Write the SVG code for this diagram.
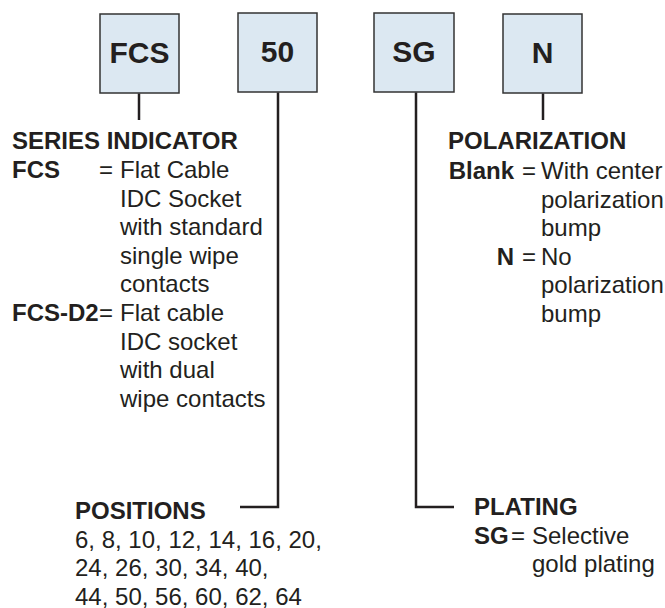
<svg xmlns="http://www.w3.org/2000/svg" width="665" height="608" viewBox="0 0 665 608">
<style>
.box{fill:#dce8f2;stroke:#333;stroke-width:1.5}
.bt{font-family:"Liberation Sans",Arial,sans-serif;font-weight:bold;font-size:30px;fill:#231f20;text-anchor:middle}
.t{font-family:"Liberation Sans",Arial,sans-serif;font-size:24px;fill:#231f20}
.b{font-weight:bold}
.e{text-anchor:end}
.ln{fill:none;stroke:#231f20;stroke-width:2.5}
</style>
<rect width="665" height="608" fill="#fff"/>
<g id="node-fcs"><rect class="box" x="100" y="14" width="79" height="79"/><text class="bt" x="139.5" y="63">FCS</text></g>
<g id="node-50"><rect class="box" x="238" y="13" width="79" height="79"/><text class="bt" x="277.5" y="62">50</text></g>
<g id="node-sg"><rect class="box" x="374" y="13" width="80" height="79"/><text class="bt" x="414" y="62">SG</text></g>
<g id="node-n"><rect class="box" x="503" y="14" width="79" height="79"/><text class="bt" x="542.5" y="63">N</text></g>
<g id="connectors">
<path class="ln" d="M139 93.5V120"/>
<path class="ln" d="M543 93.5V120"/>
<path class="ln" d="M278 92.5V507H240"/>
<path class="ln" d="M416 92.5V507H454"/>
</g>
<g id="series" class="t">
<text class="b" x="12" y="149">SERIES INDICATOR</text>
<text class="b" x="12" y="178">FCS</text>
<text x="99" y="178">=</text>
<text x="120" y="178">Flat Cable</text>
<text x="120" y="206.5">IDC Socket</text>
<text x="120" y="235">with standard</text>
<text x="120" y="263.5">single wipe</text>
<text x="120" y="292">contacts</text>
<text class="b" x="12" y="321">FCS-D2</text>
<text x="99" y="321">=</text>
<text x="120" y="321">Flat cable</text>
<text x="120" y="349.5">IDC socket</text>
<text x="120" y="378">with dual</text>
<text x="120" y="406.5">wipe contacts</text>
</g>
<g id="polarization" class="t">
<text class="b" x="448" y="148.5">POLARIZATION</text>
<text class="b e" x="514" y="179">Blank</text>
<text x="522" y="179">=</text>
<text x="541" y="179">With center</text>
<text x="541" y="207.5">polarization</text>
<text x="541" y="236">bump</text>
<text class="b e" x="514" y="264.5">N</text>
<text x="522" y="264.5">=</text>
<text x="541" y="264.5">No</text>
<text x="541" y="293">polarization</text>
<text x="541" y="321.5">bump</text>
</g>
<g id="positions" class="t">
<text class="b" x="75" y="519">POSITIONS</text>
<text x="75" y="547.5">6, 8, 10, 12, 14, 16, 20,</text>
<text x="75" y="576">24, 26, 30, 34, 40,</text>
<text x="75" y="604.5">44, 50, 56, 60, 62, 64</text>
</g>
<g id="plating" class="t">
<text class="b" x="474" y="515">PLATING</text>
<text class="b" x="474" y="543.5">SG</text>
<text x="511" y="543.5">=</text>
<text x="532" y="543.5">Selective</text>
<text x="532" y="572">gold plating</text>
</g>
</svg>
